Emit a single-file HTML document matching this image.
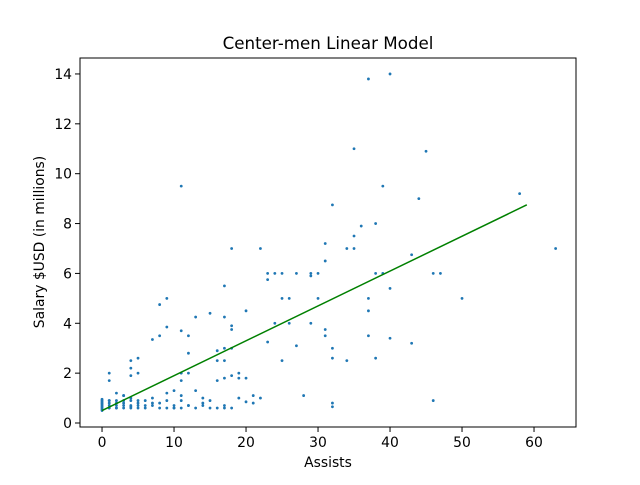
<!DOCTYPE html>
<html><head><meta charset="utf-8"><style>
body{margin:0;background:#fff;font-family:"Liberation Sans","DejaVu Sans",sans-serif;}
svg text{font-family:"DejaVu Sans","Liberation Sans",sans-serif;}
</style></head><body>
<svg id="chart" width="640" height="480" xmlns="http://www.w3.org/2000/svg">
<rect width="640" height="480" fill="#fff"/>
<text x="328" y="49" text-anchor="middle" font-size="16.7">Center-men Linear Model</text>
<text x="328" y="467" text-anchor="middle" font-size="13.9">Assists</text>
<text transform="translate(44,242) rotate(-90)" text-anchor="middle" font-size="13.9">Salary $USD (in millions)</text>
<g id="ticks"></g>
<g id="points"></g>
<g id="fit"></g>
<rect x="80" y="58" width="496" height="369" fill="none" stroke="#000" stroke-width="1"/>
</svg>
<script>
const xTicks=[0,10,20,30,40,50,60];
const yTicks=[0,2,4,6,8,10,12,14];
const assists=[37,40,35,45,11,39,58,44,32,36,38,35,34,35,31,22,18,63,43,31,23,24,25,27,29,29,30,38,39,46,47,23,17,40,25,26,30,37,50,9,8,37,20,15,13,17,24,26,29,31,18,18,9,11,12,8,7,31,37,40,23,43,27,16,17,18,32,12,16,17,34,38,32,25,4,5,4,4,5,1,1,11,12,19,19,11,16,17,18,20,
28,46,32,32,21,21,20,19,15,14,14,13,13,12,10,10,11,9,9,8,7,7,6,6,5,5,4,3,3,2,2,17,18,16,22,11,10,8,4,3,2,1,1,
0,0,0,0,0,0,0,0,0,0,1,1,1,1,2,2,3,3,4,4,4,5,5,6,7,2,3,9,10,11,12,14,15,17];
const salary=[13.8,14,11,10.9,9.5,9.5,9.2,9,8.75,7.9,8,7.5,7,7,7.2,7,7,7,6.75,6.5,6,6,6,6,6,5.9,6,6,6,6,6,5.75,5.5,5.4,5,5,5,5,5,5,4.75,4.5,4.5,4.4,4.25,4.25,4,4,4,3.75,3.9,3.75,3.85,3.7,3.5,3.5,3.35,3.5,3.5,3.4,3.25,3.2,3.1,2.9,3,3,3,2.8,2.5,2.5,2.5,2.6,2.6,2.5,2.5,2.6,2.2,1.9,2.0,2,1.7,2,2,2,1.8,1.7,1.7,1.8,1.9,1.8,
1.1,0.9,0.8,0.65,1.1,0.8,0.85,1,0.9,1,0.8,1.3,0.6,0.7,1.3,0.7,1.1,1.2,0.9,0.8,1.0,0.7,0.9,0.6,0.8,0.6,0.7,0.9,0.6,1.2,0.8,0.7,0.6,0.6,1.0,0.6,0.6,0.6,1.0,1.1,0.6,0.6,0.9,
0.5,0.55,0.6,0.65,0.7,0.75,0.8,0.85,0.9,0.95,0.6,0.7,0.8,0.9,0.6,0.7,0.7,0.8,0.6,0.65,0.9,0.7,0.9,0.7,0.8,0.9,1.1,0.6,0.6,0.9,0.7,0.7,0.6,0.6];
const fitX=[0,59];
const fitY=[0.5,8.75];
const X0=-3.06,X1=65.83,Y0=-0.16,Y1=14.64;
const L=80,R=576,T=58,B=427;
const sx=v=>L+(v-X0)/(X1-X0)*(R-L);
const sy=v=>B-(v-Y0)/(Y1-Y0)*(B-T);
const NS="http://www.w3.org/2000/svg";
const tk=document.getElementById('ticks');
xTicks.forEach(t=>{
 const l=document.createElementNS(NS,'line');
 l.setAttribute('x1',sx(t));l.setAttribute('x2',sx(t));l.setAttribute('y1',B);l.setAttribute('y2',B+5);l.setAttribute('stroke','#000');
 
 
 tk.appendChild(l);
 const s=document.createElementNS(NS,'text');
 s.setAttribute('x',sx(t));s.setAttribute('y',B+20);s.setAttribute('text-anchor','middle');s.setAttribute('font-size','13.9');s.textContent=t;
 
 
 tk.appendChild(s);
});
yTicks.forEach(t=>{
 const l=document.createElementNS(NS,'line');
 l.setAttribute('x1',L-5);l.setAttribute('x2',L);l.setAttribute('y1',sy(t));l.setAttribute('y2',sy(t));l.setAttribute('stroke','#000');
 
 
 tk.appendChild(l);
 const s=document.createElementNS(NS,'text');
 s.setAttribute('x',L-8);s.setAttribute('y',sy(t)+5);s.setAttribute('text-anchor','end');s.setAttribute('font-size','13.9');s.textContent=t;
 
 
 tk.appendChild(s);
});
const pg=document.getElementById('points');
assists.forEach((a,i)=>{
 const c=document.createElementNS(NS,'circle');
 c.setAttribute('cx',sx(a));c.setAttribute('cy',sy(salary[i]));c.setAttribute('r','1.4');c.setAttribute('fill','#1f77b4');
 
 
 pg.appendChild(c);
});
const ln=document.createElementNS(NS,'line');
ln.setAttribute('x1',sx(fitX[0]));ln.setAttribute('y1',sy(fitY[0]));ln.setAttribute('x2',sx(fitX[1]));ln.setAttribute('y2',sy(fitY[1]));
ln.setAttribute('stroke','#008000');ln.setAttribute('stroke-width','1.5');


document.getElementById('fit').appendChild(ln);
</script>
</body></html>
